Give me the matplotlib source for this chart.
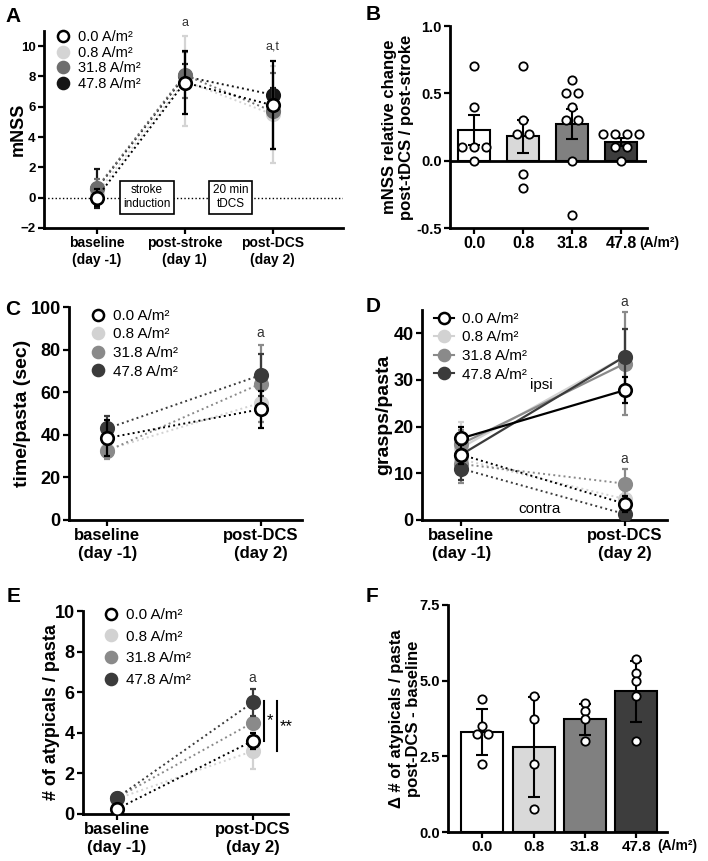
import numpy as np
import matplotlib.pyplot as plt
from matplotlib.lines import Line2D

plt.rcParams['font.family'] = ['Liberation Sans', 'DejaVu Sans']

groups = ['0.0', '0.8', '31.8', '47.8']
legend_labels = ['0.0 A/m²', '0.8 A/m²', '31.8 A/m²', '47.8 A/m²']

# A: mNSS over time (mean, error) per group
a_times = ['baseline\n(day -1)', 'post-stroke\n(day 1)', 'post-DCS\n(day 2)']
a_means = [[0.0, 7.6, 6.1], [0.3, 7.7, 5.5], [0.65, 8.1, 5.7], [0.6, 8.0, 6.8]]
a_errs = [[0.55, 2.05, 2.9], [0.6, 3.0, 3.2], [0.6, 1.5, 2.5], [1.3, 0.8, 0.45]]

# B: mNSS relative change (bars = mean, SEM, single animals)
b_means = [0.23, 0.18, 0.27, 0.14]
b_sem = [0.11, 0.12, 0.11, 0.03]
b_points = [[0.7, 0.4, 0.1, 0.1, 0.1, 0.0],
            [0.7, 0.3, 0.2, 0.2, -0.1, -0.2],
            [0.6, 0.5, 0.5, 0.4, 0.3, 0.3, 0.0, -0.4],
            [0.2, 0.2, 0.2, 0.2, 0.1, 0.1, 0.0]]

two_times = ['baseline\n(day -1)', 'post-DCS\n(day 2)']

# C: time per pasta
c_means = [[38.5, 52], [33, 55], [32.5, 64], [43, 68]]
c_errs = [[8.5, 8.7], [4, 9], [4, 18], [6, 10]]

# D: grasps per pasta, ipsi and contra
d_ipsi = [[17.5, 27.8], [15.5, 35], [16.3, 33.5], [14, 35]]
d_ipsi_err = [[2.5, 2.8], [5.5, 6], [3, 11], [3, 6]]
d_contra = [[14, 3.5], [13, 4.5], [12, 7.8], [11, 1.3]]
d_contra_err = [[2, 1.7], [3, 1.5], [4, 3.1], [2.5, 1]]

# E: atypicals per pasta
e_means = [[0.25, 3.6], [0.75, 3.1], [0.8, 4.5], [0.8, 5.5]]
e_errs = [[0.15, 0.4], [0.2, 0.9], [0.2, 0.3], [0.2, 0.65]]

# F: change in atypicals (bars = mean, SD, single animals)
f_means = [3.3, 2.8, 3.72, 4.65]
f_sd = [0.77, 1.65, 0.52, 1.0]
f_points = [[4.4, 3.5, 3.25, 3.25, 2.25],
            [4.5, 3.75, 2.25, 0.75],
            [4.25, 4.0, 3.75, 3.0],
            [5.7, 5.25, 5.0, 4.5, 3.0]]

a_face = ['white', '#d4d4d4', '#6e6e6e', '#151515']
a_edge = ['black', '#d4d4d4', '#6e6e6e', '#151515']
face = ['white', '#d2d2d2', '#8a8a8a', '#3b3b3b']
edge = ['black', '#d2d2d2', '#8a8a8a', '#3b3b3b']
b_bar = ['white', '#d9d9d9', '#808080', '#3d3d3d']

W, H = 708, 861
fig = plt.figure(figsize=(W / 100, H / 100), dpi=100)


def box(l, t, r, b):
    return [l / W, (H - b) / H, (r - l) / W, (b - t) / H]


def style(ax, ysize, xsize, label_x):
    for s in ['top', 'right']:
        ax.spines[s].set_visible(False)
    for s in ['left', 'bottom']:
        ax.spines[s].set_linewidth(2)
    ax.tick_params(width=1.6, length=4, pad=2)
    ax.tick_params(axis='y', labelsize=ysize)
    ax.tick_params(axis='x', labelsize=xsize)
    for lab in ax.get_yticklabels() + ax.get_xticklabels():
        lab.set_fontweight('bold')
    ax.yaxis.set_label_coords(label_x, 0.5)
    ax.yaxis.label.set_va('center')


def lines(ax, means, errs, faces, edges, ls=':', lw=1.4, ms=9, order=(1, 2, 3, 0), z=2):
    x = np.arange(len(means[0]))
    for k, i in enumerate(order):
        ax.plot(x, means[i], ls=ls, color=edges[i], lw=lw, zorder=z + k)
        ax.errorbar(x, means[i], yerr=errs[i], fmt='none', ecolor=edges[i],
                    elinewidth=1.6, capsize=2.5, capthick=1.6, zorder=z + k)
        ax.plot(x, means[i], 'o', ls='none', ms=ms, mfc=faces[i],
                mec=edges[i], mew=1.9, zorder=z + k + 0.5)


def legend(ax, faces, edges, fs, anchor, ls='none', spacing=0.45):
    h = [Line2D([], [], ls=ls, color=edges[i], lw=1.5, marker='o', ms=8,
                mfc=faces[i], mec=edges[i], mew=1.8) for i in range(4)]
    ax.legend(h, legend_labels, loc='upper left', bbox_to_anchor=anchor,
              frameon=False, fontsize=fs, handlelength=1.0 if ls == 'none' else 1.3,
              handletextpad=0.5, labelspacing=spacing, borderaxespad=0)


def spread(vals, step):
    out = []
    seen = {}
    for v in vals:
        n = vals.count(v)
        i = seen.get(v, 0)
        seen[v] = i + 1
        out.append((i - (n - 1) / 2) * step)
    return np.array(out)


# ---- A ----
ax = fig.add_axes(box(44, 31, 343, 228))
ax.axhline(0, ls=':', color='black', lw=1, zorder=1)
lines(ax, a_means, a_errs, a_face, a_edge, order=(3, 1, 2, 0))
ax.set_xlim(-0.6, 2.8)
ax.set_ylim(-2, 11)
ax.set_yticks([-2, 0, 2, 4, 6, 8, 10])
ax.set_xticks(range(3), a_times)
ax.set_ylabel('mNSS', fontsize=13, fontweight='bold')
style(ax, 9.5, 10, -0.087)
ax.text(0.57, 0.04, 'stroke\ninduction', ha='center', va='center', fontsize=8.5,
        bbox=dict(boxstyle='square,pad=0.3', fc='white', ec='black', lw=1.2), zorder=5)
ax.text(1.52, 0.04, '20 min\ntDCS', ha='center', va='center', fontsize=8.5,
        bbox=dict(boxstyle='square,pad=0.3', fc='white', ec='black', lw=1.2), zorder=5)
ax.text(1, 11.5, 'a', ha='center', va='center', fontsize=9, color='#333333', clip_on=False)
ax.text(2, 9.9, 'a,t', ha='center', va='center', fontsize=9, color='#333333')
legend(ax, a_face, a_edge, 10.5, (0.02, 1.035), spacing=0.12)

# ---- B ----
ax = fig.add_axes(box(450, 26, 647, 228))
xb = np.arange(4)
ax.bar(xb, b_means, width=0.64, color=b_bar, edgecolor='black', lw=1.5, zorder=2)
ax.errorbar(xb, b_means, yerr=b_sem, fmt='none', ecolor='black', elinewidth=1.5,
            capsize=4, capthick=1.5, zorder=3)
for i in range(4):
    ax.plot(xb[i] + spread(b_points[i], 0.25), b_points[i], 'o', ms=6, mfc='white',
            mec='black', mew=1.3, ls='none', zorder=4)
ax.axhline(0, color='black', lw=2, zorder=3)
ax.set_xlim(-0.49, 3.53)
ax.set_ylim(-0.5, 1.0)
ax.set_yticks([-0.5, 0, 0.5, 1.0], ['-0.5', '0.0', '0.5', '1.0'])
ax.set_xticks(xb, groups)
ax.set_ylabel('mNSS relative change\npost-tDCS / post-stroke', fontsize=12,
              fontweight='bold', linespacing=1.1)
style(ax, 10.5, 11.5, -0.264)
ax.text(0.96, -0.04, '(A/m²)', transform=ax.transAxes, ha='left', va='top',
        fontsize=10, fontweight='bold')

# ---- C ----
ax = fig.add_axes(box(69, 307, 302, 520))
lines(ax, c_means, c_errs, face, edge)
ax.set_xlim(-0.25, 1.27)
ax.set_ylim(0, 100)
ax.set_yticks(range(0, 101, 20))
ax.set_xticks(range(2), two_times)
ax.set_ylabel('time/pasta (sec)', fontsize=14, fontweight='bold')
style(ax, 13, 12, -0.20)
ax.text(1, 88, 'a', ha='center', va='center', fontsize=10, color='#333333')
legend(ax, face, edge, 11, (0.065, 1.02), spacing=0.3)

# ---- D ----
ax = fig.add_axes(box(422, 310, 667, 520))
lines(ax, d_ipsi, d_ipsi_err, face, edge, ls='-', lw=1.6)
lines(ax, d_contra, d_contra_err, face, edge, ls=':', lw=1.4, z=10)
ax.set_xlim(-0.24, 1.26)
ax.set_ylim(0, 45)
ax.set_yticks(range(0, 41, 10))
ax.set_xticks(range(2), two_times)
ax.set_ylabel('grasps/pasta', fontsize=14, fontweight='bold')
style(ax, 13, 12, -0.155)
ax.text(1, 46.7, 'a', ha='center', va='center', fontsize=10, color='#333333', clip_on=False)
ax.text(1, 13, 'a', ha='center', va='center', fontsize=10, color='#333333')
ax.text(0.49, 29, 'ipsi', ha='center', va='center', fontsize=11)
ax.text(0.48, 2.4, 'contra', ha='center', va='center', fontsize=11)
legend(ax, face, edge, 11, (0.025, 1.02), ls='-', spacing=0.3)

# ---- E ----
ax = fig.add_axes(box(83, 611, 288, 814))
lines(ax, e_means, e_errs, face, edge)
ax.set_xlim(-0.25, 1.26)
ax.set_ylim(0, 10)
ax.set_yticks(range(0, 11, 2))
ax.set_xticks(range(2), two_times)
ax.set_ylabel('# of atypicals / pasta', fontsize=13, fontweight='bold')
style(ax, 13, 12, -0.156)
ax.text(1, 6.7, 'a', ha='center', va='center', fontsize=10, color='#333333')
ax.plot([1.08, 1.08], [e_means[3][1] + 0.07, e_means[0][1]], color='black', lw=1.5, clip_on=False)
ax.plot([1.18, 1.18], [e_means[3][1] + 0.07, e_means[1][1]], color='black', lw=1.5, clip_on=False)
ax.text(1.105, 4.6, '*', ha='left', va='center', fontsize=12, clip_on=False)
ax.text(1.2, 4.3, '**', ha='left', va='center', fontsize=12, clip_on=False)
legend(ax, face, edge, 11, (0.07, 1.045), spacing=0.5)

# ---- F ----
ax = fig.add_axes(box(448, 605, 667, 832))
xf = np.arange(4)
ax.bar(xf, f_means, width=0.82, color=b_bar, edgecolor='black', lw=1.5, zorder=2)
ax.errorbar(xf, f_means, yerr=f_sd, fmt='none', ecolor='black', elinewidth=1.5,
            capsize=4, capthick=1.5, zorder=3)
for i in range(4):
    ax.plot(xf[i] + spread(f_points[i], 0.22), f_points[i], 'o', ms=6, mfc='white',
            mec='black', mew=1.3, ls='none', zorder=4)
ax.set_xlim(-0.67, 3.6)
ax.set_ylim(0, 7.5)
ax.set_yticks([0, 2.5, 5.0, 7.5], ['0.0', '2.5', '5.0', '7.5'])
ax.set_xticks(xf, groups)
ax.set_ylabel('Δ # of atypicals / pasta\npost-DCS - baseline', fontsize=12,
              fontweight='bold', linespacing=1.1)
style(ax, 10.5, 11, -0.196)
ax.text(0.955, -0.03, '(A/m²)', transform=ax.transAxes, ha='left', va='top',
        fontsize=10, fontweight='bold')

# panel letters
for lab, x, y in [('A', 5, 7), ('B', 366, 5), ('C', 5, 300), ('D', 366, 297),
                  ('E', 7, 587), ('F', 366, 587)]:
    fig.text(x / W, 1 - y / H, lab, fontsize=15, fontweight='bold', ha='left', va='top')

fig.savefig('out.png', dpi=100)
